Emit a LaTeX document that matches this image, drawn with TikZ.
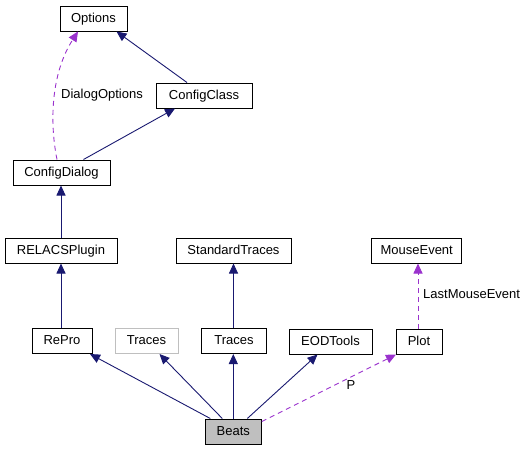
\documentclass[tikz,border=0pt]{standalone}
\usepackage{fontspec}
\setmainfont{Liberation Sans}
\usetikzlibrary{arrows.meta}
\definecolor{edgeblue}{HTML}{191970}
\definecolor{edgepurple}{HTML}{9A32CD}
\definecolor{boxgrey}{HTML}{BFBFBF}
\begin{document}
\begin{tikzpicture}[x=1pt,y=-1pt,
  cls/.style={draw=black,line width=1pt,fill=white,minimum height=25pt,inner sep=0pt,text height=7pt,text depth=0pt,font=\fontsize{13}{15}\selectfont},
  ghost/.style={cls,draw=boxgrey},
  current/.style={cls,fill=boxgrey},
  inherit/.style={draw=edgeblue,line width=0.9pt,-{Triangle[length=10pt,width=9pt]}},
  usage/.style={draw=edgepurple,line width=0.9pt,dash pattern=on 5pt off 4pt,-{Triangle[length=10pt,width=9pt]}},
  lbl/.style={font=\fontsize{13}{15}\selectfont,inner sep=0pt}]
\useasboundingbox (0,0) rectangle (527,451);
\node[cls,minimum width=67pt] (options) at (93.5,18.5) {Options};
\node[cls,minimum width=96pt] (configclass) at (204,95.5) {ConfigClass};
\node[cls,minimum width=97pt] (configdialog) at (61.5,172.5) {ConfigDialog};
\node[cls,minimum width=112pt] (relacs) at (61,250.5) {RELACSPlugin};
\node[cls,minimum width=115pt] (stdtraces) at (233.5,250.5) {StandardTraces};
\node[cls,minimum width=90pt] (mouse) at (416.7,250.5) {MouseEvent};
\node[cls,minimum width=60pt] (repro) at (62,341) {RePro};
\node[ghost,minimum width=63pt] (tracesg) at (146.5,341) {Traces};
\node[cls,minimum width=65pt] (traces) at (234,341) {Traces};
\node[cls,minimum width=83pt] (eod) at (330.5,341.5) {EODTools};
\node[cls,minimum width=46pt] (plot) at (419,341.5) {Plot};
\node[current,minimum width=56pt] (beats) at (233.3,431.5) {Beats};

\draw[inherit] ([xshift=-17pt]configclass.north) -- ([xshift=23pt]options.south);
\draw[inherit] ([xshift=22pt]configdialog.north) -- ([xshift=-29pt]configclass.south);
\draw[usage] ([xshift=-4.5pt]configdialog.north) .. controls (50,125) and (50,75) .. ([xshift=-15.5pt]options.south);
\node[lbl,anchor=west] (l1) at (61,95) {DialogOptions};
\draw[inherit] (relacs.north) -- (configdialog.south -| relacs.north);
\draw[inherit] (repro.north -| relacs.south) -- (relacs.south);
\draw[inherit] (traces.north -| stdtraces.south) -- (stdtraces.south);
\draw[inherit] ([xshift=-23pt]beats.north) -- ([xshift=28pt]repro.south);
\draw[inherit] ([xshift=-11pt]beats.north) -- ([xshift=13pt]tracesg.south);
\draw[inherit] (beats.north) -- (beats.north |- traces.south);
\draw[inherit] ([xshift=14pt]beats.north) -- ([xshift=-13pt]eod.south);
\draw[usage] ([yshift=10pt]beats.east) -- ([xshift=-23pt]plot.south);
\node[lbl] (l2) at (351,385) {P};
\draw[usage] ([xshift=-1pt]plot.north) -- ([xshift=1.3pt]mouse.south);
\node[lbl,anchor=west] (l3) at (423,294) {LastMouseEvent};
\end{tikzpicture}
\end{document}
